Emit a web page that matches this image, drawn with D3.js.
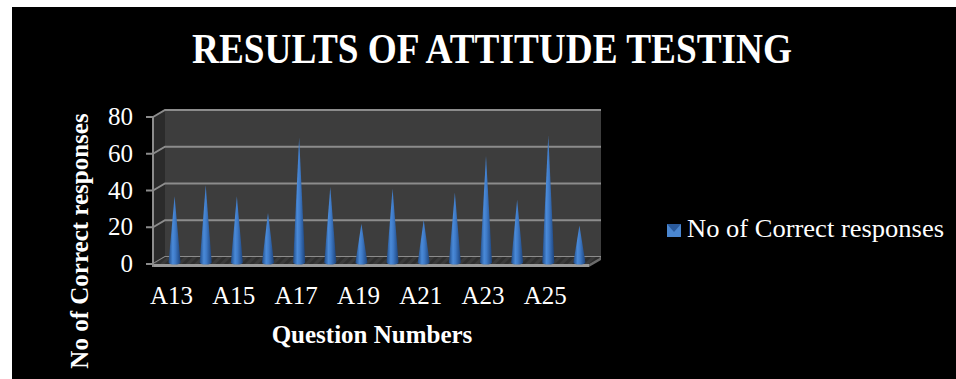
<!DOCTYPE html>
<html>
<head>
<meta charset="utf-8">
<script src="https://cdn.jsdelivr.net/npm/d3@7"></script>
<style>
  body { margin: 0; background: #fff; }
  svg { display: block; }
  text { font-family: "Liberation Serif", "DejaVu Serif", serif; fill: #fff; }
</style>
</head>
<body>
<svg></svg>
<script>
var questions = ["A13", "A14", "A15", "A16", "A17", "A18", "A19", "A20", "A21", "A22", "A23", "A24", "A25", "A26"];
var correct = [35, 41, 35, 26, 67, 40, 20, 39, 22, 37, 57, 33, 68, 19];
var yTicks = [0, 20, 40, 60, 80];
var seriesName = "No of Correct responses";

var W = 956, H = 379;
var svg = d3.select('svg').attr('width', W).attr('height', H);

// black panel with white strip on left/top
svg.append('rect').attr('x', 12).attr('y', 7).attr('width', W - 12).attr('height', H - 7).attr('fill', '#000');

// 3d depth offset
var dx = 12, dy = -7;

var x = d3.scaleBand().domain(questions).range([153, 589]);
var y = d3.scaleLinear().domain([0, 80]).range([264, 117]);

var defs = svg.append('defs');
var grad = defs.append('linearGradient').attr('id', 'cone').attr('x1', 0).attr('x2', 1).attr('y1', 0).attr('y2', 0);
grad.append('stop').attr('offset', '0%').attr('stop-color', '#1f4a86');
grad.append('stop').attr('offset', '35%').attr('stop-color', '#4a8ad8');
grad.append('stop').attr('offset', '55%').attr('stop-color', '#3f7bc8');
grad.append('stop').attr('offset', '100%').attr('stop-color', '#1c427a');

var hatch = defs.append('pattern').attr('id', 'hatch').attr('patternUnits', 'userSpaceOnUse')
  .attr('width', 6).attr('height', 6).attr('patternTransform', 'rotate(45)');
hatch.append('rect').attr('width', 6).attr('height', 6).attr('fill', '#2e2e2e');
hatch.append('rect').attr('width', 3).attr('height', 6).attr('fill', '#3a3a3a');

var x0 = x.range()[0], x1 = x.range()[1];
var yTop = y(80), yBot = y(0);

// back wall
svg.append('rect')
  .attr('x', x0 + dx).attr('y', yTop + dy)
  .attr('width', x1 - x0).attr('height', yBot - yTop)
  .attr('fill', '#3d3d3d');

// left side wall
svg.append('polygon')
  .attr('points', [[x0, yTop], [x0 + dx, yTop + dy], [x0 + dx, yBot + dy], [x0, yBot]].join(' '))
  .attr('fill', '#2b2b2b');

// gridlines
var grid = svg.append('g');
yTicks.forEach(function(t) {
  grid.append('polyline')
    .attr('points', [[x0, y(t)], [x0 + dx, y(t) + dy], [x1 + dx, y(t) + dy]].join(' '))
    .attr('fill', 'none').attr('stroke', '#8c8c8c').attr('stroke-width', 2);
});

// floor
svg.append('polygon')
  .attr('points', [[x0, yBot], [x0 + dx, yBot + dy], [x1 + dx, yBot + dy], [x1, yBot]].join(' '))
  .attr('fill', 'url(#hatch)');
svg.append('rect').attr('x', x0).attr('y', yBot).attr('width', x1 - x0).attr('height', 3).attr('fill', '#9a9a9a');
svg.append('polygon')
  .attr('points', [[x1, yBot], [x1 + dx, yBot + dy], [x1 + dx, yBot + dy + 3], [x1, yBot + 3]].join(' '))
  .attr('fill', '#6a6a6a');

// left axis line and ticks
svg.append('line').attr('x1', x0).attr('x2', x0).attr('y1', yTop).attr('y2', yBot + 3)
  .attr('stroke', '#8c8c8c').attr('stroke-width', 2);
var yAxis = svg.append('g');
yAxis.selectAll('line').data(yTicks).enter().append('line')
  .attr('x1', x0 - 7).attr('x2', x0).attr('y1', d => y(d)).attr('y2', d => y(d))
  .attr('stroke', '#8c8c8c').attr('stroke-width', 2);
yAxis.selectAll('text').data(yTicks).enter().append('text')
  .attr('x', 133).attr('y', d => y(d) + 8)
  .attr('text-anchor', 'end').attr('font-size', 25)
  .text(d => d);

// cones
var coneW = 12;
var cones = svg.append('g');
cones.selectAll('path').data(correct).enter().append('path')
  .attr('d', function(d, i) {
    var cx = x(questions[i]) + x.bandwidth() / 2 + dx / 2;
    var by = y(0) + dy / 2 + 2;
    var ty = y(d) + dy / 2;
    return 'M' + (cx - coneW / 2) + ',' + by +
      ' L' + cx + ',' + ty +
      ' L' + (cx + coneW / 2) + ',' + by +
      ' A' + (coneW / 2) + ',2 0 0 1 ' + (cx - coneW / 2) + ',' + by + 'Z';
  })
  .attr('fill', 'url(#cone)');

// x labels, every other one
svg.append('g').selectAll('text')
  .data(questions.filter((q, i) => i % 2 === 0))
  .enter().append('text')
  .attr('x', d => x(d) + x.bandwidth() / 2 + 3)
  .attr('y', 304)
  .attr('text-anchor', 'middle').attr('font-size', 25)
  .text(d => d);

// titles
svg.append('text')
  .attr('x', 492).attr('y', 63)
  .attr('text-anchor', 'middle').attr('font-size', 42).attr('font-weight', 'bold')
  .attr('textLength', 600).attr('lengthAdjust', 'spacingAndGlyphs')
  .text('RESULTS OF ATTITUDE TESTING');

svg.append('text')
  .attr('x', 372).attr('y', 343)
  .attr('text-anchor', 'middle').attr('font-size', 25).attr('font-weight', 'bold')
  .text('Question Numbers');

svg.append('text')
  .attr('transform', 'translate(88,241) rotate(-90)')
  .attr('text-anchor', 'middle').attr('font-size', 25).attr('font-weight', 'bold')
  .text(seriesName);

// legend
var lg = svg.append('g').attr('transform', 'translate(667,224)');
lg.append('rect').attr('width', 14).attr('height', 13).attr('fill', '#4a86d0');
lg.append('polygon').attr('points', '0,0 14,0 7,8').attr('fill', '#2a5a9c');
lg.append('text').attr('x', 20).attr('y', 13).attr('font-size', 25)
  .attr('textLength', 257).attr('lengthAdjust', 'spacingAndGlyphs')
  .text(seriesName);
</script>
</body>
</html>
